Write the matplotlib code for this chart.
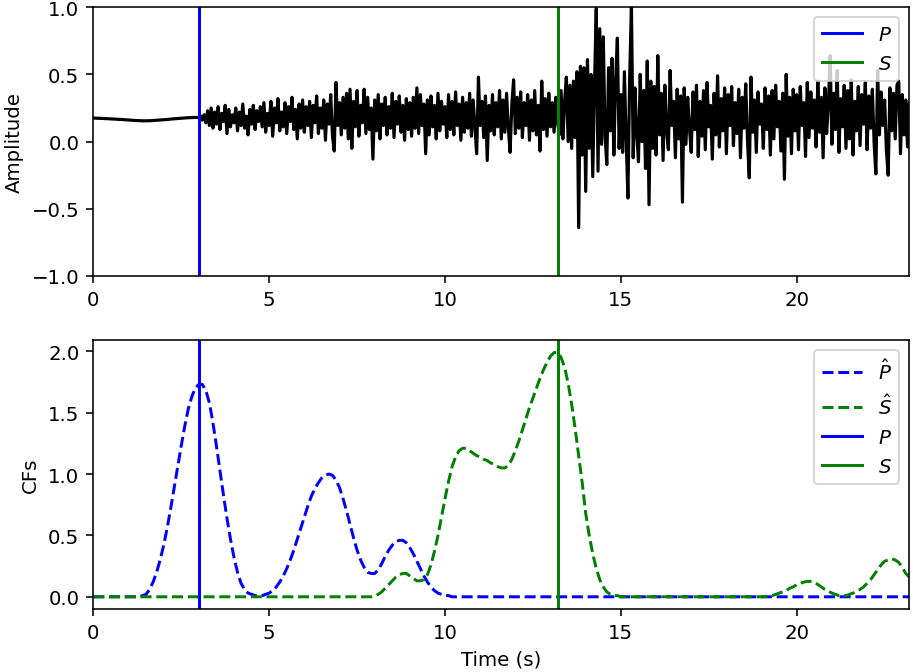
import matplotlib
matplotlib.use("Agg")
import matplotlib.pyplot as plt
import numpy as np

# picks (s)
p_pick = 3.0
s_pick = 13.2

# waveform, one value every 0.05 s, one row per second
wave_dt = 0.05
wave = [
    0.175, 0.175, 0.174, 0.174, 0.173, 0.173, 0.172, 0.171, 0.171, 0.170, 0.169, 0.168, 0.168, 0.167, 0.166, 0.165, 0.165, 0.164, 0.163, 0.162,
    0.161, 0.160, 0.159, 0.158, 0.157, 0.157, 0.156, 0.156, 0.155, 0.155, 0.155, 0.155, 0.156, 0.156, 0.157, 0.158, 0.159, 0.160, 0.161, 0.162,
    0.163, 0.164, 0.165, 0.166, 0.168, 0.169, 0.170, 0.171, 0.172, 0.173, 0.174, 0.175, 0.176, 0.177, 0.178, 0.178, 0.179, 0.180, 0.180, 0.180,
    0.18, 0.19, 0.16, 0.20, 0.14, 0.23, 0.12, 0.25, 0.10, 0.22, 0.13, 0.26, 0.09, 0.21, 0.15, 0.27, 0.06, 0.24, 0.11, 0.20,
    0.14, 0.25, 0.08, 0.22, 0.12, 0.28, 0.10, 0.19, 0.05, 0.24, 0.13, 0.27, 0.09, 0.23, 0.15, 0.26, 0.11, 0.29, 0.07, 0.21,
    0.12, 0.30, 0.04, 0.25, 0.14, 0.32, 0.08, 0.22, 0.11, 0.29, 0.06, 0.26, 0.15, 0.33, 0.09, 0.24, 0.02, 0.28, 0.10, 0.31,
    0.07, 0.26, 0.12, 0.30, 0.03, 0.27, 0.14, 0.34, 0.06, 0.25, 0.10, 0.31, 0.01, 0.28, 0.13, 0.35, 0.04, -0.07, 0.44, 0.12,
    0.29, 0.05, 0.33, 0.10, 0.36, 0.02, 0.39, -0.05, 0.30, 0.11, 0.38, 0.04, 0.27, 0.14, 0.39, 0.06, 0.33, 0.09, 0.25, -0.13,
    0.31, 0.08, 0.35, 0.02, 0.28, 0.12, 0.33, 0.05, 0.26, 0.10, 0.36, 0.03, 0.30, 0.13, 0.34, 0.07, 0.27, 0.01, 0.32, 0.09,
    0.29, 0.04, 0.33, 0.10, 0.40, 0.06, 0.35, 0.12, 0.28, -0.09, 0.31, 0.05, 0.34, 0.11, 0.27, 0.02, 0.36, 0.08, 0.30, 0.13,
    0.26, 0.03, 0.35, 0.09, 0.30, 0.05, 0.37, 0.12, 0.28, 0.01, 0.33, 0.07, 0.29, 0.10, 0.36, 0.04, 0.31, 0.11, -0.09, 0.48,
    0.12, 0.30, 0.03, 0.34, -0.14, 0.27, 0.08, 0.35, 0.05, 0.29, 0.11, 0.38, 0.02, 0.31, 0.07, 0.36, 0.10, -0.08, 0.28, 0.46,
    0.06, 0.33, 0.10, 0.37, 0.03, 0.29, 0.12, 0.35, 0.01, 0.31, 0.08, 0.38, 0.05, 0.27, -0.07, 0.45, 0.09, 0.32, 0.04, 0.36,
    0.11, 0.29, 0.07, 0.33, 0.14, 0.05, 0.38, 0.02, 0.30, 0.48, 0.00, 0.42, -0.05, 0.45, 0.03, 0.52, -0.64, 0.56, -0.10, 0.55,
    -0.37, 0.61, -0.05, 0.50, -0.26, 0.42, 0.99, -0.22, 0.84, -0.02, 0.78, 0.04, -0.17, 0.55, 0.08, 0.62, -0.10, 0.45, 0.77, -0.05,
    0.35, -0.08, 0.52, 0.02, -0.42, 0.48, 1.02, -0.12, 0.40, 0.06, -0.15, 0.50, 0.00, 0.38, -0.20, 0.60, -0.47, 0.45, -0.05, 0.41,
    -0.10, 0.64, 0.05, 0.36, -0.14, 0.42, 0.08, -0.06, 0.53, 0.12, 0.30, -0.12, 0.39, 0.02, 0.34, -0.45, 0.40, -0.02, 0.33, 0.10,
    -0.08, 0.37, 0.09, 0.42, -0.11, 0.30, 0.04, 0.38, -0.06, 0.44, 0.11, 0.27, -0.13, 0.36, 0.05, 0.49, -0.04, 0.32, 0.08, 0.40,
    -0.09, 0.35, 0.12, 0.41, -0.03, 0.29, 0.06, 0.39, -0.12, 0.33, 0.10, 0.43, 0.01, -0.27, 0.48, 0.07, 0.31, -0.08, 0.37, 0.13,
    0.28, -0.05, 0.40, 0.09, 0.34, -0.10, 0.38, 0.02, 0.42, 0.11, 0.30, -0.07, 0.36, -0.28, 0.50, 0.04, 0.33, -0.09, 0.39, 0.08,
    0.35, -0.06, 0.41, 0.12, 0.29, -0.11, 0.44, 0.03, 0.37, 0.10, 0.31, -0.04, 0.45, 0.07, 0.33, -0.12, 0.40, 0.06, 0.28, 0.64,
    -0.02, 0.36, 0.09, 0.53, -0.08, 0.32, 0.11, 0.42, -0.05, 0.38, 0.02, 0.46, -0.10, 0.30, 0.08, 0.41, -0.03, 0.35, 0.13, 0.44,
    -0.06, 0.34, 0.10, 0.39, -0.01, -0.24, 0.53, 0.05, 0.37, 0.12, 0.31, -0.07, -0.25, 0.40, 0.08, 0.36, 0.02, 0.42, 0.45, -0.09,
    0.35, 0.05, 0.31, -0.04, 0.28,
]

# characteristic functions, one value every 0.1 s
cf_dt = 0.1
p_hat = [0.0] * 14 + [
    0.01, 0.02, 0.06, 0.12, 0.20, 0.30, 0.42, 0.56, 0.72, 0.89,
    1.06, 1.23, 1.39, 1.53, 1.63, 1.70, 1.73, 1.73, 1.68, 1.58,
    1.42, 1.23, 1.03, 0.83, 0.64, 0.47, 0.32, 0.20, 0.11, 0.06,
    0.03, 0.02, 0.01, 0.01, 0.01, 0.02, 0.03, 0.05, 0.08, 0.12,
    0.17, 0.23, 0.30, 0.38, 0.47, 0.56, 0.65, 0.74, 0.82, 0.88,
    0.93, 0.97, 0.99, 1.00, 0.99, 0.95, 0.89, 0.80, 0.70, 0.59,
    0.48, 0.38, 0.30, 0.24, 0.20, 0.19, 0.19, 0.22, 0.27, 0.33,
    0.38, 0.42, 0.45, 0.46, 0.46, 0.44, 0.40, 0.35, 0.29, 0.23,
    0.17, 0.12, 0.08, 0.05, 0.03, 0.02, 0.01, 0.01,
] + [0.0] * 131

s_hat = [0.0] * 80 + [
    0.01, 0.02, 0.04, 0.07, 0.10, 0.13, 0.16, 0.18, 0.19, 0.19,
    0.17, 0.15, 0.13, 0.13, 0.14, 0.18, 0.26, 0.37, 0.50, 0.65,
    0.80, 0.94, 1.06, 1.14, 1.19, 1.21, 1.21, 1.19, 1.17, 1.15,
    1.14, 1.12, 1.11, 1.09, 1.08, 1.06, 1.05, 1.05, 1.07, 1.12,
    1.19, 1.27, 1.36, 1.45, 1.54, 1.62, 1.70, 1.78, 1.85, 1.91,
    1.96, 1.99, 1.99, 1.95, 1.87, 1.74, 1.57, 1.37, 1.15, 0.93,
    0.68, 0.50, 0.35, 0.23, 0.14, 0.08, 0.04, 0.02, 0.01, 0.01,
] + [0.0] * 42 + [
    0.01, 0.01, 0.02, 0.03, 0.04, 0.05, 0.07, 0.08, 0.10, 0.11,
    0.12, 0.125, 0.125, 0.12, 0.10, 0.08, 0.06, 0.045, 0.03, 0.02,
    0.01, 0.01, 0.01, 0.02, 0.03, 0.05, 0.06, 0.08, 0.11, 0.14,
    0.18, 0.22, 0.26, 0.29, 0.30, 0.31, 0.30, 0.28, 0.24, 0.19,
    0.16,
]

t_wave = np.arange(len(wave)) * wave_dt
t_p = np.arange(len(p_hat)) * cf_dt
t_s = np.arange(len(s_hat)) * cf_dt

fig, axes = plt.subplots(nrows=2, ncols=1, figsize=(6.4, 4.7175), dpi=142.66)

ax = axes[0]
ax.plot(t_wave, wave, color="k", lw=1.6)
ax.axvline(p_pick, color="b", lw=1.5, label="$P$")
ax.axvline(s_pick, color="g", lw=1.5, label="$S$")
ax.set_xlim(0, 23.2)
ax.set_ylim(-1, 1)
ax.set_ylabel("Amplitude")
ax.legend(loc="upper right")

ax = axes[1]
ax.plot(t_p, p_hat, "b--", lw=1.5, label=r"$\hat{P}$")
ax.plot(t_s, s_hat, "g--", lw=1.5, label=r"$\hat{S}$")
ax.axvline(p_pick, color="b", lw=1.5, label="$P$")
ax.axvline(s_pick, color="g", lw=1.5, label="$S$")
ax.set_xlim(0, 23.2)
ax.set_ylabel("CFs")
ax.set_xlabel("Time (s)")
ax.legend(loc="upper right")

plt.subplots_adjust(left=0.1022, right=0.9959, top=0.9877, bottom=0.0936, hspace=0.2395)
fig.savefig("out.png")
